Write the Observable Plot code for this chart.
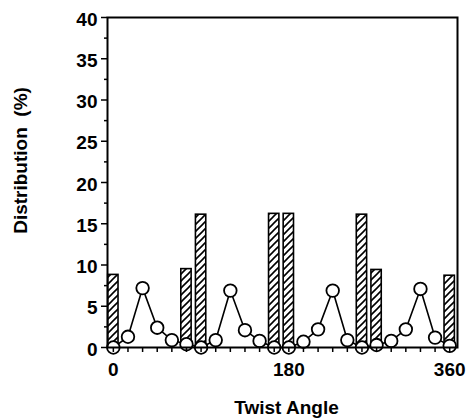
<!DOCTYPE html>
<html><head><meta charset="utf-8">
<script src="https://cdn.jsdelivr.net/npm/d3@7"></script>
<script src="https://cdn.jsdelivr.net/npm/@observablehq/plot@0.6"></script>
<style>body{margin:0;background:#fff}</style>
</head><body><div id="chart"></div>
<script>
const angles = [0,15,30,45,60,75,90,105,120,135,150,165,180,195,210,225,240,255,270,285,300,315,330,345];
const circleValues = [0,1.3,7.2,2.4,0.9,0.4,0,0.9,6.9,2.1,0.8,0,0,0.7,2.2,6.9,0.9,0,0.3,0.8,2.2,7.1,1.2,0.2];
const barAngles = [0,75,90,165,180,255,270,345];
const barValues = [8.8,9.5,16.1,16.2,16.2,16.1,9.4,8.7];
const xTickValues = [0,180,345];
const xTickLabels = ["0","180","360"];
const yMajorTicks = [0,5,10,15,20,25,30,35,40];
const yMinorTicks = [2.5,7.5,12.5,17.5,22.5,27.5,32.5,37.5];
const xTitle = "Twist Angle";
const yTitle = "Distribution\u00a0\u00a0(%)";

const circles = angles.map((a, i) => ({angle: a, value: circleValues[i]}));
const bars = barAngles.map((a, i) => ({angle: a, value: barValues[i]}));
const half = 5.3;
const font = "'Liberation Sans', Arial, sans-serif";

const plot = Plot.plot({
  width: 466, height: 418,
  marginLeft: 107, marginRight: 9, marginTop: 17, marginBottom: 71,
  style: {fontFamily: font, fontSize: "19px", fontWeight: "bold", color: "#000", background: "#fff"},
  x: {domain: [-6, 353], label: null},
  y: {domain: [0, 40], label: null},
  marks: [
    Plot.rectY(bars, {x1: d => d.angle - half, x2: d => d.angle + half, y: "value", fill: "url(#hatch)", stroke: "#000", strokeWidth: 1.6}),
    Plot.line(circles, {x: "angle", y: "value", stroke: "#000", strokeWidth: 1.6}),
    Plot.dot(circles, {x: "angle", y: "value", r: 6.3, fill: "#fff", stroke: "#000", strokeWidth: 1.8}),
    Plot.frame({stroke: "#000", strokeWidth: 2}),
    Plot.axisX(angles, {tickSize: 5, tickFormat: () => "", strokeWidth: 1.5, label: null}),
    Plot.axisX(xTickValues, {tickSize: 0, tickPadding: 15, tickFormat: d => xTickLabels[xTickValues.indexOf(d)], label: null}),
    Plot.axisY(yMajorTicks, {tickSize: 6, tickFormat: () => "", strokeWidth: 1.5, label: null}),
    Plot.axisY(yMajorTicks, {tickSize: 0, tickPadding: 10, dy: 2, label: null}),
    Plot.axisY(yMinorTicks, {tickSize: 3, tickFormat: () => "", strokeWidth: 1.5, label: null}),
    Plot.text([xTitle], {frameAnchor: "bottom", lineAnchor: "top", dx: 4, dy: 53}),
    Plot.text([yTitle], {frameAnchor: "left", textAnchor: "middle", rotate: -90, dx: -87, dy: -22})
  ]
});

const defs = document.createElementNS("http://www.w3.org/2000/svg", "defs");
defs.innerHTML = '<pattern id="hatch" patternUnits="userSpaceOnUse" width="7" height="7"><rect width="7" height="7" fill="#fff"/><path d="M-2,2 L2,-2 M0,7 L7,0 M5,9 L9,5" stroke="#000" stroke-width="1.6"/></pattern>';
plot.insertBefore(defs, plot.firstChild);
document.getElementById("chart").appendChild(plot);
</script>
</body></html>
